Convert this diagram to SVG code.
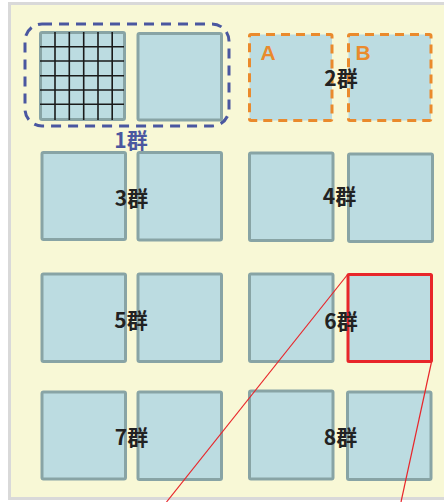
<svg xmlns="http://www.w3.org/2000/svg" width="444" height="502" viewBox="0 0 444 502">
<style>
.bg{fill:#f8f8d6;stroke:#d9d9d9;stroke-width:3}
.box{fill:#bcdce1;stroke:#88a4a5;stroke-width:3}
.boxo{fill:#bcdce1;stroke:#ea8a2c;stroke-width:3;stroke-dasharray:9 6}
.boxr{fill:#bcdce1;stroke:#e8262a;stroke-width:3}
.frame{fill:none;stroke:#4a57a0;stroke-width:3;stroke-dasharray:10 7}
.grid{stroke:#1a1a1a;stroke-width:1.6}
.lbl{font-family:"Noto Sans CJK JP","Noto Sans",sans-serif;font-weight:bold;font-size:21px;fill:#222;text-anchor:middle}
.blue{fill:#4a57a0}
.ab{font-family:"Liberation Sans",Arial,sans-serif;font-weight:bold;font-size:21px;fill:#ea8a2c}
.conn{stroke:#e8262a;stroke-width:1.2;fill:none}
</style>
<rect class="bg" x="9.5" y="3.5" width="450" height="495"/>
<g id="group1">
<rect class="frame" x="25" y="24" width="204" height="102" rx="17"/>
<rect class="box" x="40.5" y="32.5" width="84" height="87" rx="1.5"/>
<g class="grid">
<line x1="55" y1="32" x2="55" y2="120"/><line x1="69.3" y1="32" x2="69.3" y2="120"/><line x1="83.7" y1="32" x2="83.7" y2="120"/><line x1="98" y1="32" x2="98" y2="120"/><line x1="112.2" y1="32" x2="112.2" y2="120"/>
<line x1="40" y1="46.7" x2="124" y2="46.7"/><line x1="40" y1="61" x2="124" y2="61"/><line x1="40" y1="75.7" x2="124" y2="75.7"/><line x1="40" y1="90" x2="124" y2="90"/><line x1="40" y1="104.3" x2="124" y2="104.3"/>
</g>
<rect class="box" x="138" y="33.5" width="83.5" height="86.5" rx="1.5"/>
<text class="lbl blue" x="131" y="148">1群</text>
</g>
<g id="group2">
<rect class="boxo" x="249.5" y="34.5" width="82.5" height="86" rx="1.5"/>
<rect class="boxo" x="348.5" y="34.5" width="82.5" height="86" rx="1.5"/>
<text class="ab" x="260.5" y="60">A</text>
<text class="ab" x="355.5" y="60">B</text>
<text class="lbl" x="341" y="86">2群</text>
</g>
<g id="group3">
<rect class="box" x="42" y="152.5" width="83.5" height="87" rx="1.5"/>
<rect class="box" x="138" y="152.5" width="83.5" height="87.5" rx="1.5"/>
<text class="lbl" x="131.5" y="206">3群</text>
</g>
<g id="group4">
<rect class="box" x="249.5" y="153" width="83.5" height="87.5" rx="1.5"/>
<rect class="box" x="348.5" y="154" width="84" height="87.5" rx="1.5"/>
<text class="lbl" x="339.5" y="204">4群</text>
</g>
<g id="group5">
<rect class="box" x="42" y="274" width="83.5" height="87.5" rx="1.5"/>
<rect class="box" x="138" y="274" width="83.5" height="87.5" rx="1.5"/>
<text class="lbl" x="131" y="328">5群</text>
</g>
<g id="group6">
<rect class="box" x="249.5" y="274" width="83.5" height="87.5" rx="1.5"/>
<rect class="boxr" x="348" y="274.5" width="83.5" height="87" rx="1"/>
<text class="lbl" x="341" y="328.5">6群</text>
</g>
<g id="group7">
<rect class="box" x="42" y="392" width="83.5" height="87" rx="1.5"/>
<rect class="box" x="138" y="392" width="83.5" height="87.5" rx="1.5"/>
<text class="lbl" x="131.5" y="445">7群</text>
</g>
<g id="group8">
<rect class="box" x="249.5" y="391" width="83.5" height="88" rx="1.5"/>
<rect class="box" x="347.5" y="392" width="83.5" height="87.5" rx="1.5"/>
<text class="lbl" x="340.5" y="445">8群</text>
</g>
<g id="connectors">
<line class="conn" x1="348" y1="274" x2="166.5" y2="502"/>
<line class="conn" x1="431.5" y1="362" x2="401" y2="502"/>
</g>
</svg>
